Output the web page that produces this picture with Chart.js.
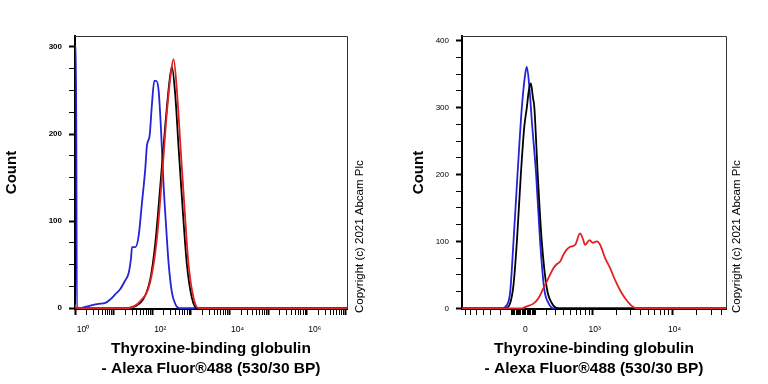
<!DOCTYPE html>
<html>
<head>
<meta charset="utf-8">
<script src="https://cdn.jsdelivr.net/npm/chart.js@4.4.0/dist/chart.umd.min.js"></script>
<style>
  html, body { margin: 0; padding: 0; background: #fff; }
  #wrap { position: relative; width: 768px; height: 384px; }
  .panel { position: absolute; top: 0; width: 384px; height: 384px; }
</style>
</head>
<body>
<div id="wrap">
  <div class="panel" style="left:0"><canvas id="histLeft" width="384" height="384"></canvas></div>
  <div class="panel" style="left:384px"><canvas id="histRight" width="384" height="384"></canvas></div>
</div>
<script>
// ---- left histogram (log axis), intensity vs count ----
const leftBlueX  = [1, 1.06, 1.12, 1.4, 1.68, 2.5, 4.1, 6.1, 8.2, 11.1, 14.9, 20, 24.4, 28.1, 29.9, 36.4, 44.4, 54.1, 65.9, 72.8, 85.3, 98, 112.7, 126.8, 145.9, 167.5, 196.3, 230.1, 264.2, 322.1, 392.6, 508, 11000000];
const leftBlueY  = [301, 301, 0, 0, 1, 3, 5, 6, 10, 16, 22, 32, 40, 57, 70, 70, 83, 121, 160, 187, 198, 234, 261, 261, 250, 207, 141, 91, 52, 18, 5, 0, 0];
const leftBlackX = [1, 18, 49, 88.5, 120, 161, 217, 281, 322, 393, 479, 621, 787, 1059, 1426, 11000000];
const leftBlackY = [0, 0, 6, 33, 75, 140, 210, 262, 277, 245, 185, 110, 50, 12, 0, 0];
const leftRedX   = [1, 1.1, 22, 49, 88.5, 132, 178, 239, 303, 356, 434, 530, 671, 869, 1169, 1574, 11000000];
const leftRedY   = [4, 0, 0, 8, 30, 80, 150, 225, 270, 286, 250, 190, 120, 50, 12, 0, 0];

// ---- right histogram (biexponential axis) ----
const rightBlueX  = [-790, -185, -138, -109, -81, -48, -13, 14, 27, 48, 68, 104, 139, 176, 218, 271, 46000];
const rightBlueY  = [0, 0, 5, 25, 100, 200, 300, 350, 361, 330, 280, 200, 100, 30, 8, 0, 0];
const rightBlackX = [-790, -154, -109, -81, -53, -21, 6, 27, 43, 60, 77, 89, 118, 154, 202, 253, 330, 46000];
const rightBlackY = [0, 0, 8, 35, 100, 200, 270, 300, 325, 336, 315, 300, 200, 100, 30, 8, 0, 0];
const rightRedX   = [-790, -13, 27, 81, 124, 169, 218, 271, 310, 352, 395, 446, 497, 585, 681, 742, 795, 905, 1000, 1127, 1242, 1439, 1664, 1922, 2217, 2562, 2959, 3251, 3586, 46000];
const rightRedY   = [0, 0, 3, 7, 15, 30, 45, 60, 66, 70, 80, 88, 92, 95, 112, 104, 95, 102, 98, 100, 95, 75, 60, 42, 27, 15, 6, 2, 0, 0];

// tick labels
const leftYTicks  = [0, 100, 200, 300];
const rightYTicks = [0, 100, 200, 300, 400];
const leftXMajor  = [1, 1e2, 1e4, 1e6];
const leftXLabels = ['10\u2070', '10\u00B2', '10\u2074', '10\u2076'];
const rightXMajor  = [0, 1e3, 1e4];
const rightXLabels = ['0', '10\u00B3', '10\u2074'];

const xTitle = ['Thyroxine-binding globulin', '- Alexa Fluor\u00AE488 (530/30 BP)'];
const copyrightText = 'Copyright (c) 2021 Abcam Plc';

const BLUE = 'rgb(35,35,215)', BLACK = '#000', RED = 'rgb(228,32,32)';
const FONT = '"Liberation Sans", Arial, sans-serif';

// biexponential-like display transform (asinh), in decades
const BIEX_W = 281;
function biex(v) { return Math.asinh(v / BIEX_W) / Math.LN10; }

function pts(xs, ys, f) {
  return xs.map((x, i) => ({ x: f ? f(x) : x, y: ys[i] }));
}

function ds(data, color) {
  return { data: data, borderColor: color, borderWidth: 1.8, pointRadius: 0,
           fill: false, cubicInterpolationMode: 'monotone' };
}

// y ticks: labelled every 100, minor every 25
function yTickList(labels) {
  const out = [];
  const top = labels[labels.length - 1];
  for (let v = 0; v <= top; v += 25) {
    out.push({ value: v, label: labels.includes(v) ? String(v) : '', major: labels.includes(v) });
  }
  return out;
}

// left x ticks: every decade plus 2..9
function logTickList() {
  const out = [];
  for (let e = 0; e <= 7; e++) {
    const d = Math.pow(10, e);
    const k = leftXMajor.indexOf(d);
    out.push({ value: d, label: k >= 0 ? leftXLabels[k] : '', major: true });
    if (e < 7) for (let m = 2; m <= 9; m++) out.push({ value: m * d, label: '', major: false });
  }
  return out;
}

// right x ticks in display units
function biexTickList() {
  const raw = [];
  for (let m = 1; m <= 7; m++) raw.push(-m * 100);
  for (let m = 1; m <= 9; m++) raw.push(-m * 10, m * 10, m * 100);
  for (let m = 2; m <= 9; m++) raw.push(m * 1000);
  for (let m = 2; m <= 4; m++) raw.push(m * 10000);
  const out = raw.map(v => ({ value: biex(v), label: '', major: false }));
  rightXMajor.forEach((v, i) => out.push({ value: biex(v), label: rightXLabels[i], major: true }));
  out.sort((a, b) => a.value - b.value);
  return out;
}

const framePlugin = {
  id: 'frame',
  afterDraw(chart, args, opts) {
    const { ctx, chartArea: a } = chart;
    ctx.save();
    ctx.strokeStyle = '#333';
    ctx.lineWidth = 1;
    ctx.beginPath();
    ctx.moveTo(a.left, a.top + 0.5);
    ctx.lineTo(a.right + 0.5, a.top + 0.5);
    ctx.lineTo(a.right + 0.5, a.bottom);
    ctx.stroke();
    ctx.fillStyle = '#000';
    ctx.font = '11.5px ' + FONT;
    ctx.translate(opts.x, a.bottom + 4);
    ctx.rotate(-Math.PI / 2);
    ctx.textAlign = 'left';
    ctx.textBaseline = 'middle';
    ctx.fillText(copyrightText, 0, 0);
    ctx.restore();
  }
};

function makeChart(id, cfg) {
  const xList = cfg.xTicks, yList = cfg.yTicks;
  return new Chart(document.getElementById(id).getContext('2d'), {
    type: 'line',
    data: { datasets: cfg.datasets },
    options: {
      responsive: false,
      animation: false,
      parsing: false,
      layout: { padding: cfg.padding },
      plugins: { legend: { display: false }, tooltip: { enabled: false }, frame: { x: cfg.copyX } },
      scales: {
        x: {
          type: cfg.xType, min: cfg.xMin, max: cfg.xMax,
          afterBuildTicks: s => { s.ticks = xList.map(t => ({ value: t.value })); },
          afterFit: s => { s.height = 75; },
          border: { display: true, color: '#000', width: 2 },
          grid: { drawOnChartArea: false, drawTicks: true, tickLength: 6, tickColor: '#000',
                  tickWidth: c => (xList[c.index] && xList[c.index].major ? 2 : 1) },
          ticks: { autoSkip: false, maxRotation: 0, padding: 10, labelOffset: cfg.labelOffset,
                   color: '#000', font: { family: FONT, size: 8.5 },
                   callback: (v, i) => xList[i].label },
          title: { display: true, text: xTitle, color: '#000',
                   font: { family: FONT, size: 15.5, weight: 'bold', lineHeight: 1.3 },
                   padding: { top: 0, bottom: 5 } }
        },
        y: {
          type: 'linear', min: -1, max: cfg.yMax,
          afterBuildTicks: s => { s.ticks = yList.map(t => ({ value: t.value })); },
          afterFit: s => { s.width = cfg.yWidth; },
          border: { display: true, color: '#000', width: 2 },
          grid: { drawOnChartArea: false, drawTicks: true, tickLength: 6, tickColor: '#000',
                  tickWidth: c => (yList[c.index] && yList[c.index].major ? 2 : 1) },
          ticks: { autoSkip: false, padding: 7, color: '#000',
                   font: { family: FONT, size: 8, weight: cfg.yBold ? 'bold' : 'normal' },
                   callback: (v, i) => yList[i].label },
          title: { display: true, text: 'Count', color: '#000',
                   font: { family: FONT, size: 15, weight: 'bold' },
                   padding: { top: cfg.titlePad, bottom: 0 } }
        }
      }
    },
    plugins: [framePlugin]
  });
}

makeChart('histLeft', {
  datasets: [
    ds(pts(leftRedX, leftRedY), RED),
    ds(pts(leftBlackX, leftBlackY), BLACK),
    ds(pts(leftBlueX, leftBlueY), BLUE)
  ],
  xType: 'logarithmic', xMin: 1, xMax: 1.096e7,
  xTicks: logTickList(), yTicks: yTickList(leftYTicks),
  yMax: 312.6, yWidth: 75, yBold: true, titlePad: 3,
  padding: { left: 0, right: 37, top: 36, bottom: 0 },
  labelOffset: 8, copyX: 360
});

makeChart('histRight', {
  datasets: [
    ds(pts(rightRedX, rightRedY, biex), RED),
    ds(pts(rightBlackX, rightBlackY, biex), BLACK),
    ds(pts(rightBlueX, rightBlueY, biex), BLUE)
  ],
  xType: 'linear', xMin: biex(-790), xMax: biex(46000),
  xTicks: biexTickList(), yTicks: yTickList(rightYTicks),
  yMax: 407, yWidth: 52, yBold: false, titlePad: 0,
  padding: { left: 26, right: 42, top: 36, bottom: 0 },
  labelOffset: 2, copyX: 353
});
</script>
</body>
</html>
